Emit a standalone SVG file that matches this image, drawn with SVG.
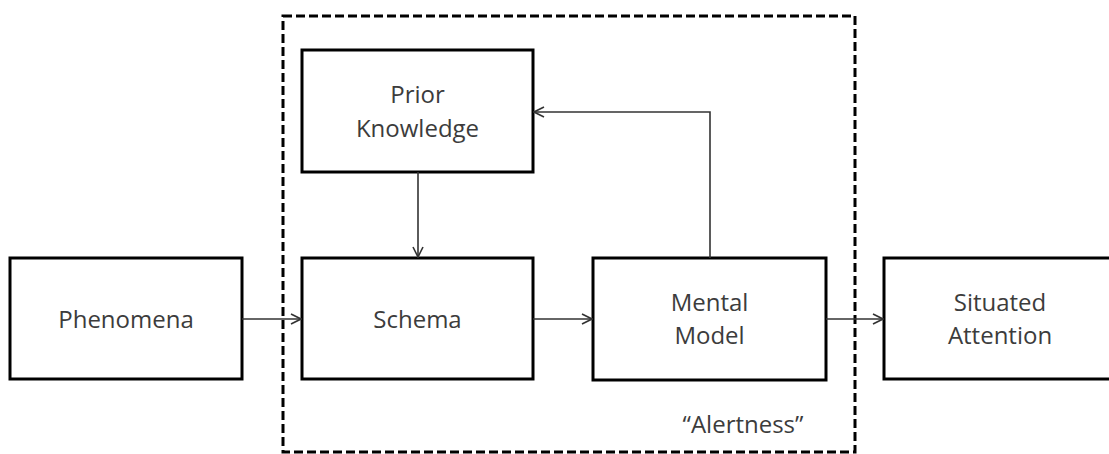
<svg xmlns="http://www.w3.org/2000/svg" width="1109" height="454" viewBox="0 0 1109 454">
  <style>
    .box { fill: #ffffff; stroke: #000000; stroke-width: 3; }
    .frame { fill: none; stroke: #000000; stroke-width: 3; stroke-dasharray: 9 4; }
    .label { font-family: "Open Sans", "Liberation Sans", sans-serif; font-size: 24px; fill: #3c3c3c; text-anchor: middle; }
    .link { fill: none; stroke: #333333; stroke-width: 1.6; }
  </style>
  <defs>
    <marker id="arrow" viewBox="0 0 12 12" refX="11" refY="6" markerWidth="12" markerHeight="12" markerUnits="userSpaceOnUse" orient="auto">
      <path d="M1,1 L11,6 L1,11" fill="none" stroke="#333333" stroke-width="1.6"/>
    </marker>
  </defs>

  <rect width="1109" height="454" fill="#ffffff"/>

  <!-- "Alertness" boundary -->
  <g id="alertness">
    <rect class="frame" x="283" y="16" width="572" height="436"/>
    <text class="label" x="743" y="433">“Alertness”</text>
  </g>

  <g id="phenomena">
    <rect class="box" x="10" y="258" width="232" height="121"/>
    <text class="label" x="126" y="328">Phenomena</text>
  </g>

  <g id="prior-knowledge">
    <rect class="box" x="302" y="50" width="231" height="122"/>
    <text class="label" x="417.5" y="103">Prior</text>
    <text class="label" x="417.5" y="137">Knowledge</text>
  </g>

  <g id="schema">
    <rect class="box" x="302" y="258" width="231" height="121"/>
    <text class="label" x="417.5" y="328">Schema</text>
  </g>

  <g id="mental-model">
    <rect class="box" x="593" y="258" width="233" height="122"/>
    <text class="label" x="709.5" y="311">Mental</text>
    <text class="label" x="709.5" y="344">Model</text>
  </g>

  <g id="situated-attention">
    <rect class="box" x="884" y="258" width="232" height="121"/>
    <text class="label" x="1000" y="311">Situated</text>
    <text class="label" x="1000" y="344">Attention</text>
  </g>

  <g id="connectors">
    <path class="link" d="M242,319 L301,319" marker-end="url(#arrow)"/>
    <path class="link" d="M533,319 L592,319" marker-end="url(#arrow)"/>
    <path class="link" d="M826,319 L883,319" marker-end="url(#arrow)"/>
    <path class="link" d="M418,172 L418,257" marker-end="url(#arrow)"/>
    <path class="link" d="M710,258 L710,112 L534,112" marker-end="url(#arrow)"/>
  </g>
</svg>
